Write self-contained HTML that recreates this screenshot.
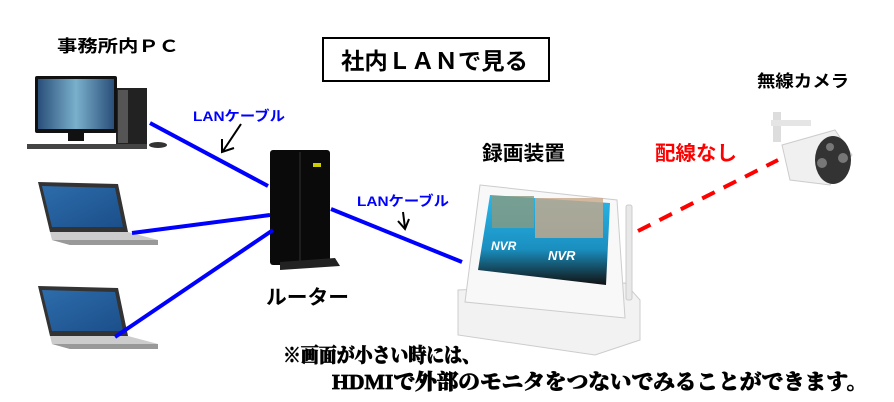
<!DOCTYPE html>
<html><head><meta charset="utf-8"><style>
html,body{margin:0;padding:0;background:#fff;}
svg{display:block}
.g{font-family:"Liberation Sans","Noto Sans CJK JP",sans-serif;font-weight:bold}
.s{font-family:"Liberation Serif","Noto Serif CJK SC",serif;font-weight:900;stroke:#000;stroke-width:0.7}
</style></head><body>
<svg width="894" height="402" viewBox="0 0 894 402" xmlns="http://www.w3.org/2000/svg">
<defs>
<linearGradient id="scr" x1="0" x2="1"><stop offset="0" stop-color="#2a4f7a"/><stop offset="0.5" stop-color="#7ab0cc"/><stop offset="1" stop-color="#2a4f7a"/></linearGradient>
<linearGradient id="lap" x1="0" y1="0" x2="1" y2="1"><stop offset="0" stop-color="#2d6cab"/><stop offset="1" stop-color="#1b4f8a"/></linearGradient>
<linearGradient id="nvr" x1="0" y1="0" x2="0" y2="1"><stop offset="0" stop-color="#2bb6e8"/><stop offset="0.6" stop-color="#1a8fc0"/><stop offset="1" stop-color="#111"/></linearGradient>
</defs>
<rect x="323" y="38" width="226" height="43" fill="#fff" stroke="#000" stroke-width="2"/>
<text x="341" y="69" class="g" font-size="23" textLength="187" lengthAdjust="spacingAndGlyphs">社内ＬＡＮで見る</text>
<text x="57" y="52" class="g" font-size="17" textLength="122" lengthAdjust="spacingAndGlyphs">事務所内ＰＣ</text>
<text x="757" y="87" class="g" font-size="17" textLength="92" lengthAdjust="spacingAndGlyphs">無線カメラ</text>
<rect x="116" y="88" width="31" height="57" fill="#222"/>
<rect x="118" y="90" width="10" height="53" fill="#555"/>
<rect x="35" y="76" width="82" height="57" rx="2" fill="#111"/>
<rect x="38" y="79" width="76" height="50" fill="url(#scr)"/>
<rect x="68" y="133" width="16" height="8" fill="#111"/>
<rect x="27" y="144" width="120" height="5" fill="#444"/>
<ellipse cx="158" cy="145" rx="9" ry="3" fill="#333"/>
<g id="lt">
<path d="M38 182 L118 184 L128 232 L50 232 Z" fill="#333"/>
<path d="M42 186 L115 188 L123 227 L52 227 Z" fill="url(#lap)"/>
<path d="M50 232 L128 232 L158 240 L158 245 L70 245 L52 240 Z" fill="#ccc"/>
<path d="M52 240 L158 240 L158 245 L70 245 Z" fill="#999"/>
</g>
<use href="#lt" y="104"/>
<rect x="270" y="150" width="60" height="115" rx="3" fill="#0a0a0a"/>
<line x1="300" y1="152" x2="300" y2="262" stroke="#333" stroke-width="1"/>
<path d="M280 262 L335 258 L340 266 L280 270 Z" fill="#222"/>
<rect x="313" y="163" width="8" height="4" fill="#cc0"/>
<path d="M458 290 L625 283 L640 300 L640 340 L595 355 L458 335 Z" fill="#f2f2f2" stroke="#ccc"/>
<rect x="626" y="205" width="6" height="95" rx="2" fill="#e8e8e8" stroke="#ccc"/>
<path d="M480 185 L617 200 L625 318 L465 302 Z" fill="#f8f8f8" stroke="#ccc"/>
<path d="M490 195 L610 203 L606 285 L478 270 Z" fill="url(#nvr)"/>
<rect x="535" y="198" width="68" height="40" fill="#c9a888" opacity="0.8"/>
<rect x="492" y="196" width="42" height="32" fill="#8a9a80" opacity="0.8"/>
<text x="491" y="250" font-family="Liberation Sans" font-weight="bold" font-style="italic" font-size="12" fill="#fff">NVR</text>
<text x="548" y="260" font-family="Liberation Sans" font-weight="bold" font-style="italic" font-size="13" fill="#fff">NVR</text>
<rect x="773" y="112" width="8" height="30" fill="#ddd"/>
<rect x="771" y="120" width="40" height="6" fill="#e5e5e5"/>
<path d="M782 145 L835 130 L852 155 L830 185 L790 180 Z" fill="#f0f0f0" stroke="#ccc"/>
<ellipse cx="833" cy="160" rx="18" ry="24" fill="#333"/>
<circle cx="822" cy="163" r="5" fill="#777"/><circle cx="843" cy="158" r="5" fill="#777"/><circle cx="830" cy="147" r="4" fill="#777"/>
<g stroke="#0000ff" stroke-width="4">
<line x1="150" y1="123" x2="268" y2="186"/>
<line x1="132" y1="233" x2="270" y2="215"/>
<line x1="115" y1="337" x2="273" y2="230"/>
<line x1="331" y1="209" x2="462" y2="262"/>
</g>
<line x1="638" y1="231" x2="778" y2="160" stroke="#ff0000" stroke-width="4" stroke-dasharray="14,10"/>
<g stroke="#000" stroke-width="2" fill="none">
<path d="M241 124 L223 151 M222 139 L222 152 L234 148"/>
<path d="M403 212 L405 228 M398 221 L405 229 L409 219"/>
</g>
<text x="193" y="121" class="g" font-size="14" fill="#0000ff" textLength="92" lengthAdjust="spacingAndGlyphs">LANケーブル</text>
<text x="357" y="206" class="g" font-size="14" fill="#0000ff" textLength="92" lengthAdjust="spacingAndGlyphs">LANケーブル</text>
<text x="266" y="304" class="g" font-size="20" textLength="83" lengthAdjust="spacingAndGlyphs">ルーター</text>
<text x="482" y="160" class="g" font-size="20" textLength="83" lengthAdjust="spacingAndGlyphs">録画装置</text>
<text x="655" y="160" class="g" font-size="20" fill="#ff0000" textLength="82" lengthAdjust="spacingAndGlyphs">配線なし</text>
<text x="283" y="362" class="s" font-size="20" textLength="197" lengthAdjust="spacingAndGlyphs">※画面が小さい時には、</text>
<text x="332" y="389" class="s" font-size="21" textLength="536" lengthAdjust="spacingAndGlyphs">HDMIで外部のモニタをつないでみることができます。</text>
</svg>
</body></html>
